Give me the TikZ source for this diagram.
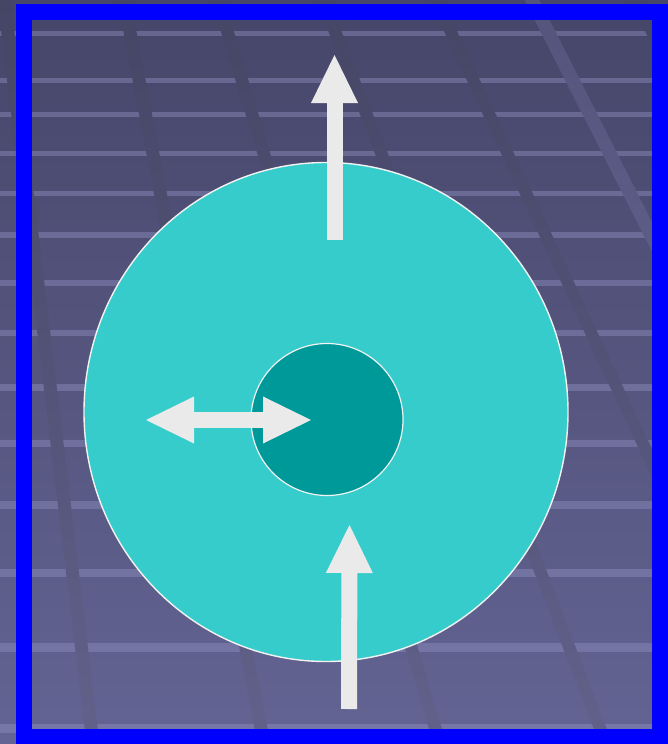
\documentclass[tikz,border=0pt]{standalone}
\usepackage{tikz}
\usetikzlibrary{positioning,arrows.meta,shapes.geometric}

\definecolor{bgtop}{RGB}{70,70,106}
\definecolor{bgbot}{RGB}{100,100,148}
\definecolor{stripecol}{RGB}{146,146,196}
\definecolor{bandtop}{RGB}{69,69,101}
\definecolor{bandbot}{RGB}{97,97,139}
\definecolor{lighttop}{RGB}{84,84,124}
\definecolor{lightbot}{RGB}{108,108,158}
\definecolor{cellcol}{RGB}{54,204,204}
\definecolor{nuccol}{RGB}{0,153,153}
\definecolor{arrowcol}{RGB}{234,234,234}
\definecolor{rimcol}{RGB}{242,242,242}

\begin{document}
\begin{tikzpicture}[
  x=1pt, y=-1pt,
  >={Triangle[length=48pt, width=47pt, line width=0pt]},
  stripe/.style={fill=stripecol, opacity=0.42},
  band/.style={top color=bandtop, bottom color=bandbot},
  lightband/.style={top color=lighttop, bottom color=lightbot},
  cellbody/.style={ellipse, draw=rimcol, line width=1.4pt, fill=cellcol, inner sep=0pt},
  nucbody/.style={circle, draw=rimcol, line width=1.2pt, fill=nuccol, inner sep=0pt},
  bigarrow/.style={draw=arrowcol, color=arrowcol, line width=16pt},
  frame/.style={draw=blue, line width=16pt},
]
\useasboundingbox (0,0) rectangle (668,744);

% background with stripes and diagonal bands
\shade[top color=bgtop, bottom color=bgbot] (0,0) rectangle (668,744);
\foreach \y/\t in {33/5, 80/5, 114/5, 153/5, 193/5, 235/6, 283/6, 333/6,
                   387/7, 443/7, 505/8, 573/8, 647/9, 728/9}
  \fill[stripe] (0,\y-\t/2) rectangle (668,\y+\t/2);
\begin{scope}
  \clip (0,0) rectangle (668,744);
  \foreach \a/\b in {4/93, 124/264, 218/440, 323/606, 436/783, 634/1050}
    \shade[band] (\a-6.5,0) -- (\a+6.5,0) -- (\b+6.5,744) -- (\b-6.5,744) -- cycle;
  \shade[lightband] (532-7.5,0) -- (532+7.5,0) -- (909+7.5,744) -- (909-7.5,744) -- cycle;
\end{scope}

% cell and nucleus
\node[cellbody, minimum width=484pt, minimum height=499pt] (cell) at (326,412) {};
\node[nucbody, minimum size=152pt] (nucleus) at (327,419.5) {};

% arrows
\coordinate (upfoot) at (334.5,240);
\coordinate (uptip) at (334.5,55);
\coordinate (infoot) at (349,709);
\coordinate (intip) at (349.5,525);
\coordinate (sideL) at (146,420);
\coordinate (sideR) at (311,420);
\draw[bigarrow, ->] (upfoot) -- (uptip);
\draw[bigarrow, ->] (infoot) -- (intip);
\draw[bigarrow, <->] (sideL) -- (sideR);

% border
\draw[frame] (24,12) rectangle (659.5,736.5);
\end{tikzpicture}
\end{document}
